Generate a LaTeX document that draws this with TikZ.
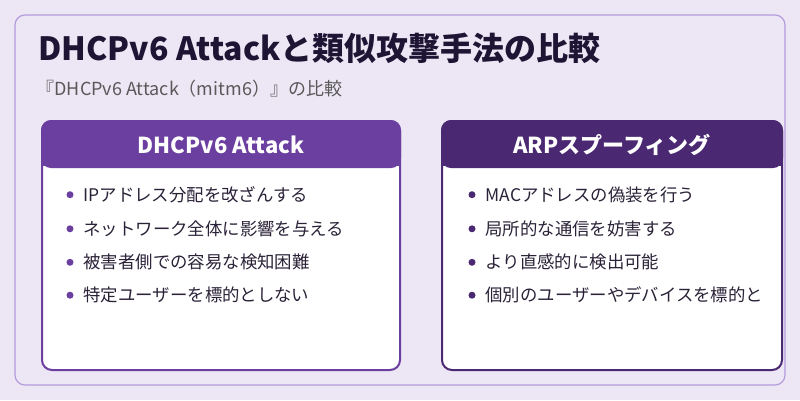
\documentclass[tikz,border=0pt]{standalone}
\usepackage{fontspec}
\setmainfont{Noto Sans CJK JP}
\definecolor{bgpale}{HTML}{EDE6F5}
\definecolor{frame}{HTML}{B39DDB}
\definecolor{purpleA}{HTML}{6A3FA0}
\definecolor{purpleB}{HTML}{4A2872}
\definecolor{titletext}{HTML}{1E1433}
\definecolor{bodytext}{HTML}{2B2238}
\tikzset{
  card/.style={draw=#1, line width=2pt, fill=white, rounded corners=10pt},
  head/.style={fill=#1, rounded corners=10pt},
  headtext/.style={text=white, font=\fontsize{22}{26}\selectfont\bfseries},
  item/.style={anchor=west, text=bodytext, font=\fontsize{17.4}{20}\selectfont},
  dot/.style={circle, inner sep=0pt, minimum size=7pt, fill=#1}
}
\begin{document}
\begin{tikzpicture}[x=1pt,y=-1pt]
  \useasboundingbox (0,0) rectangle (800,400);
  \fill [bgpale] (0,0) rectangle (800,400);
  \draw [frame, line width=1.2pt, rounded corners=10pt] (15,15) rectangle (785,385);
  \node [anchor=west, text=titletext, font=\fontsize{32}{36}\selectfont\bfseries] (title) at (35,48) {DHCPv6 Attackと類似攻撃手法の比較};
  \node [anchor=west, text=black!65, font=\fontsize{18}{21}\selectfont] (subtitle) at (33,89) {『DHCPv6 Attack（mitm6）』の比較};
  % left card
  \draw [card=purpleA] (42,121) rectangle (400,370);
  \fill [head=purpleA] (41,120) rectangle (401,168);
  \fill [purpleA] (41,150) rectangle (401,166);
  \node [headtext] (lhead) at (221,145) {DHCPv6 Attack};
  % right card
  \draw [card=purpleB] (442,121) rectangle (782,370);
  \fill [head=purpleB] (441,120) rectangle (783,168);
  \fill [purpleB] (441,150) rectangle (783,166);
  \node [headtext] (rhead) at (612,145) {ARPスプーフィング};
  \foreach \t [count=\i] in {IPアドレス分配を改ざんする, ネットワーク全体に影響を与える, 被害者側での容易な検知困難, 特定ユーザーを標的としない}{
    \node [dot=purpleA] (ld\i) at (70,160+\i*35-\i*\i*0.3) {};
    \node [item] (lt\i) at (80,160+\i*35-\i*\i*0.3) {\t};
  }
  \foreach \t [count=\i] in {MACアドレスの偽装を行う, 局所的な通信を妨害する, より直感的に検出可能, 個別のユーザーやデバイスを標的と}{
    \node [dot=purpleB] (rd\i) at (472,160+\i*35-\i*\i*0.3) {};
    \node [item] (rt\i) at (482,160+\i*35-\i*\i*0.3) {\t};
  }
\end{tikzpicture}
\end{document}
